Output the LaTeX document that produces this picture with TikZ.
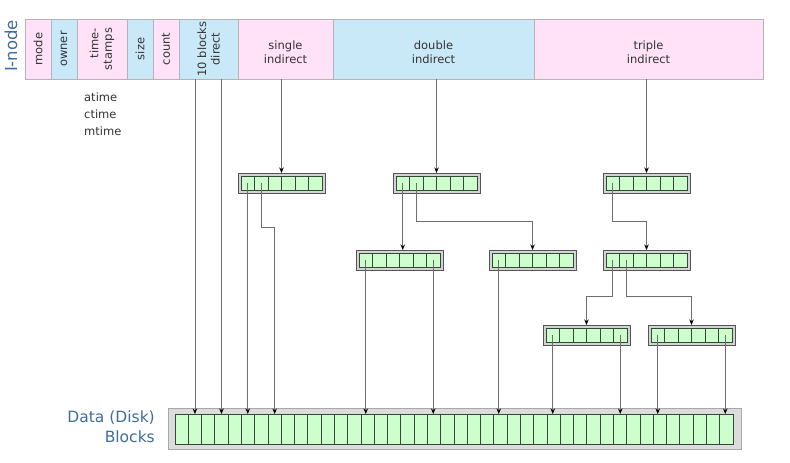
\documentclass[tikz,border=0pt]{standalone}
\usepackage{fontspec}
\setmainfont{DejaVu Sans}
\usetikzlibrary{arrows.meta,calc}
\definecolor{pinkc}{HTML}{FFE2F8}
\definecolor{bluec}{HTML}{C9E9F9}
\definecolor{greenc}{HTML}{CCFFCC}
\definecolor{cellline}{HTML}{34483A}
\definecolor{hgray}{HTML}{B4B4B4}
\definecolor{blkgray}{HTML}{D4D4D4}
\definecolor{blkline}{HTML}{555555}
\definecolor{datagray}{HTML}{DCDCDC}
\definecolor{dataline}{HTML}{A8A8A8}
\definecolor{linegray}{HTML}{6E6E6E}
\definecolor{titleblue}{HTML}{3E6C9E}
\definecolor{txt}{HTML}{333333}
\tikzset{
  hcell/.style={draw=hgray, line width=0.6pt, inner sep=0pt, outer sep=0pt, anchor=north west, minimum height=60pt},
  lbl/.style={text=txt, inner sep=0pt, font=\fontsize{11.5}{13.5}\selectfont},
  blkouter/.style={draw=blkline, fill=blkgray, line width=1pt, inner sep=0pt, outer sep=0pt, anchor=north west, minimum width=87pt, minimum height=20pt},
  gcell/.style={draw=cellline, fill=greenc, line width=0.9pt, inner sep=0pt, outer sep=0pt, anchor=north west},
  ptr/.style={draw=linegray, line width=0.8pt, -{Stealth[length=5.5pt,width=4.5pt,black]}},
  title/.style={text=titleblue, inner sep=0pt, font=\fontsize{15.5}{18}\selectfont}
}
\newcommand\ptrblk[3]{%
  \node[blkouter] (#1) at (#2,#3) {};
  \foreach \i in {1,...,6} {
    \node[gcell, minimum width=13.5pt, minimum height=14pt] (#1-\i) at ({#2+3+13.5*(\i-1)},{#3+3}) {};
  }
}
\begin{document}
\begin{tikzpicture}[x=1pt,y=-1pt]
\useasboundingbox (0,0) rectangle (790,463);
% I-node header
\node[hcell, fill=pinkc, minimum width=26pt] (mode) at (25,19) {};
\node[hcell, fill=bluec, minimum width=26pt] (owner) at (51,19) {};
\node[hcell, fill=pinkc, minimum width=50pt] (stamps) at (77,19) {};
\node[hcell, fill=bluec, minimum width=26pt] (size) at (127,19) {};
\node[hcell, fill=pinkc, minimum width=26pt] (count) at (153,19) {};
\node[hcell, fill=bluec, minimum width=59pt] (direct) at (179,19) {};
\node[hcell, fill=pinkc, minimum width=95pt] (single) at (238,19) {};
\node[hcell, fill=bluec, minimum width=201pt] (double) at (333,19) {};
\node[hcell, fill=pinkc, minimum width=229pt] (triple) at (534,19) {};
\node[lbl, rotate=90] (mode-l) at (mode.center) {mode};
\node[lbl, rotate=90] (owner-l) at (owner.center) {owner};
\node[lbl, rotate=90, align=right] (stamps-l) at (stamps.center) {time-\\stamps};
\node[lbl, rotate=90] (size-l) at (size.center) {size};
\node[lbl, rotate=90] (count-l) at (count.center) {count};
\node[lbl, rotate=90, align=center] (direct-l) at (direct.center) {10 blocks\\direct};
\node[lbl, align=center] (single-l) at ($(single.center)+(0,3)$) {single\\indirect};
\node[lbl, align=center] (double-l) at ($(double.center)+(0,3)$) {double\\indirect};
\node[lbl, align=center] (triple-l) at ($(triple.center)+(0,3)$) {triple\\indirect};
\node[title, rotate=90, font=\fontsize{16.5}{18}\selectfont] (inode-l) at (11,46) {I-node};
\node[lbl, anchor=base west] (at-l) at (84,101) {atime};
\node[lbl, anchor=base west] (ct-l) at (84,118) {ctime};
\node[lbl, anchor=base west] (mt-l) at (84,135) {mtime};
% pointer blocks
\ptrblk{s}{238}{173}
\ptrblk{dd}{393}{173}
\ptrblk{tt}{603}{173}
\ptrblk{dl}{356}{250}
\ptrblk{dr}{489}{250}
\ptrblk{tm}{603}{250}
\ptrblk{ta}{543}{325}
\ptrblk{tb}{648}{325}
% data blocks
\node[draw=dataline, fill=datagray, line width=0.8pt, inner sep=0pt, anchor=north west, minimum width=573pt, minimum height=41pt] (data) at (168,408) {};
\foreach \k in {1,...,42} {
  \node[gcell, minimum width=13.286pt, minimum height=30pt] (d-\k) at ({175+13.286*(\k-1)},414) {};
}
\node[title, anchor=base east] (data-l1) at (155,422) {Data (Disk)};
\node[title, anchor=base east] (data-l2) at (155,442) {Blocks};
% bend levels
\coordinate (sbend) at (0,227);
\coordinate (dbend) at (0,221);
\coordinate (tbend) at (0,296);
% connectors
\draw[ptr] (d-2.north |- direct.south) -- (d-2.north);
\draw[ptr] (d-4.north |- direct.south) -- (d-4.north);
\draw[ptr] (s.north |- single.south) -- (s.north);
\draw[ptr] (s-1.center) -- (s-1.center |- d-6.north);
\draw[ptr] (s-2.center) -- (s-2.center |- sbend) -| (d-8.north);
\draw[ptr] (dd.north |- double.south) -- (dd.north);
\draw[ptr] (dd-1.center) -- (dd-1.center |- dl.north);
\draw[ptr] (dd-2.center) -- (dd-2.center |- dbend) -| (dr.north);
\draw[ptr] (dl-1.center) -- (dl-1.center |- d-15.north);
\draw[ptr] (dl-6.center) -- (dl-6.center |- d-20.north);
\draw[ptr] (dr-1.center) -- (dr-1.center |- d-25.north);
\draw[ptr] (tt.north |- triple.south) -- (tt.north);
\draw[ptr] (tt-1.center) -- (tt-1.center |- dbend) -| (tm.north);
\draw[ptr] (tm-1.center) -- (tm-1.center |- tbend) -| (ta.north);
\draw[ptr] (tm-2.center) -- (tm-2.center |- tbend) -| (tb.north);
\draw[ptr] (ta-1.center) -- (ta-1.center |- d-29.north);
\draw[ptr] (ta-6.center) -- (ta-6.center |- d-34.north);
\draw[ptr] (tb-1.center) -- (tb-1.center |- d-37.north);
\draw[ptr] (tb-6.center) -- (tb-6.center |- d-42.north);
\end{tikzpicture}
\end{document}
